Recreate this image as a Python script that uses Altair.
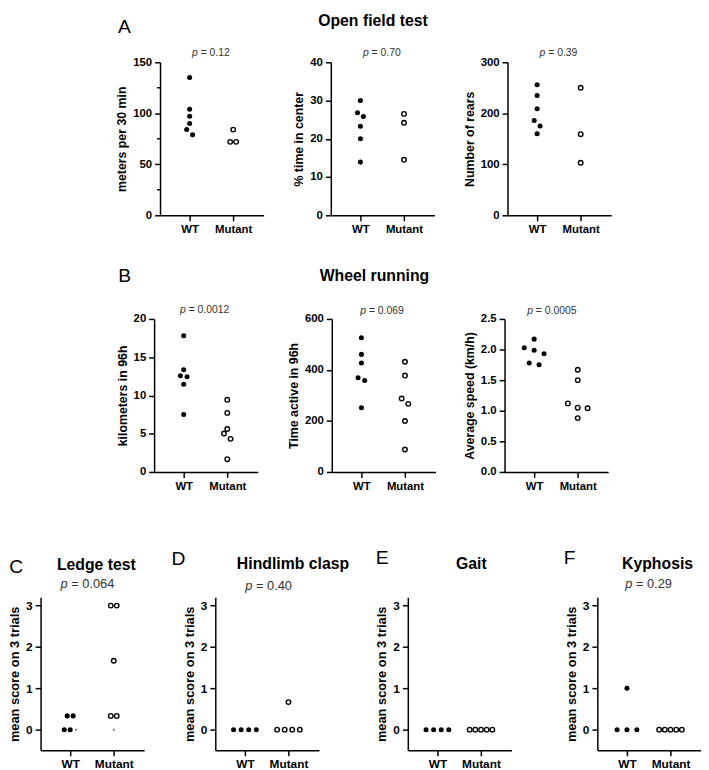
import altair as alt
import pandas as pd

# ---------------- data ----------------
GROUPS = ["WT", "Mutant"]

# A  Open field test
DIST_WT = [135, 104, 97, 90, 84, 79]
DIST_MUT = [84, 72, 72]
CENTER_WT = [30.0, 26.8, 25.8, 23.3, 20.0, 13.9]
CENTER_MUT = [26.5, 24.2, 14.5]
REARS_WT = [256, 235, 209, 186, 175, 160]
REARS_MUT = [250, 159, 103]

# B  Wheel running
KM_WT = [17.8, 13.35, 12.57, 12.44, 11.45, 7.5]
KM_MUT = [9.43, 7.72, 5.62, 5.02, 4.33, 1.67]
ACTIVE_WT = [526, 461, 427, 369, 359, 252]
ACTIVE_MUT = [432, 378, 288, 267, 200, 88]
SPEED_WT = [2.17, 2.03, 1.99, 1.93, 1.78, 1.75]
SPEED_MUT = [1.67, 1.50, 1.12, 1.05, 1.04, 0.88]

# C-F  scores (mean score on 3 trials)
LEDGE_WT = [0.333, 0.333, 0, 0]
LEDGE_MUT = [3, 3, 1.667, 0.333, 0.333]
LEDGE_WT_FAINT = [0]
LEDGE_MUT_FAINT = [0]
CLASP_WT = [0, 0, 0, 0]
CLASP_MUT = [0.667, 0, 0, 0, 0]
GAIT_WT = [0, 0, 0, 0]
GAIT_MUT = [0, 0, 0, 0, 0]
KYPH_WT = [1, 0, 0, 0]
KYPH_MUT = [0, 0, 0, 0, 0]

P_VALUES = {
    "dist": "0.12", "center": "0.70", "rears": "0.39",
    "km": "0.0012", "active": "0.069", "speed": "0.0005",
    "ledge": "0.064", "clasp": "0.40", "kyph": "0.29",
}

# ---------------- style / layout ----------------
FONT = "Liberation Sans"
PCOL = "#333333"
W, H = 105, 155
XDOM = [-0.68, 1.70]
PXU = W / (XDOM[1] - XDOM[0])
ONE = pd.DataFrame({"k": [0]})

CHAR_W = {"p": 0.556, " ": 0.278, "=": 0.584, ".": 0.278}
for _d in "0123456789":
    CHAR_W[_d] = 0.556


def text_w(s, fs):
    return sum(CHAR_W.get(c, 0.556) for c in s) * fs


def label(text, x, y, fs, weight="normal", style="normal", align="left", color="black"):
    return alt.Chart(ONE).mark_text(
        text=text, font=FONT, fontSize=fs, fontWeight=weight, fontStyle=style,
        align=align, baseline="alphabetic", color=color,
    ).encode(x=alt.value(x), y=alt.value(y))


def p_label(pv, cx, by, fs):
    rest = "= " + pv
    w_p, w_sp, w_r = text_w("p", fs), text_w(" ", fs), text_w(rest, fs)
    x0 = cx - (w_p + w_sp + w_r) / 2
    return [label("p", x0, by, fs, style="italic", color=PCOL),
            label(rest, x0 + w_p + w_sp, by, fs, color=PCOL)]


def swarm(vals, ppu, spread, thresh=6.5, cap=23.0):
    """simple beeswarm: rows of near-equal values spread symmetrically (pixels)."""
    order = sorted(range(len(vals)), key=lambda i: vals[i])
    rows = []
    for i in order:
        if rows and (vals[i] - vals[rows[-1][0]]) * ppu < thresh:
            rows[-1].append(i)
        else:
            rows.append([i])
    offs = [0.0] * len(vals)
    for r in rows:
        n = len(r)
        s = spread if n < 2 else min(spread, cap / (n - 1))
        r_sorted = sorted(r, key=lambda i: -vals[i])
        for k, i in enumerate(r_sorted):
            offs[i] = (k - (n - 1) / 2) * s
    return offs


def panel(wt, mut, ydom, yticks, ytitle, spread, fmt=None, minor=(),
          faint_wt=(), faint_mut=(), texts=(), title_fs=12.5, label_fs=11.5):
    ppu = H / (ydom[1] - ydom[0])
    recs = []
    for gi, vals, faint, kind in ((0, wt, faint_wt, "filled"), (1, mut, faint_mut, "open")):
        allv = list(vals) + list(faint)
        kinds = [kind] * len(vals) + ["faint"] * len(faint)
        offs = swarm(allv, ppu, spread)
        for v, k, o in zip(allv, kinds, offs):
            recs.append({"pos": gi + o / PXU, "value": v, "kind": k, "group": GROUPS[gi]})
    df = pd.DataFrame(recs)
    ax_kw = dict(values=list(yticks), title=ytitle, titleFontSize=title_fs, labelFontSize=label_fs)
    if fmt:
        ax_kw["format"] = fmt
    yaxis = alt.Axis(**ax_kw)
    yscale = alt.Scale(domain=list(ydom), nice=False, zero=False)
    xenc = alt.X("pos:Q", scale=alt.Scale(domain=XDOM, nice=False, zero=False),
                 axis=alt.Axis(values=[0, 1], title=None, labelFontSize=label_fs,
                               labelExpr=f"datum.value == 0 ? '{GROUPS[0]}' : '{GROUPS[1]}'"))
    yenc = alt.Y("value:Q", scale=yscale, axis=yaxis)
    base = alt.Chart(df).encode(x=xenc, y=yenc)
    layers = [
        base.transform_filter(alt.datum.kind == "filled").mark_point(
            shape="circle", filled=True, color="black", size=26, opacity=1),
        base.transform_filter(alt.datum.kind == "open").mark_point(
            shape="circle", filled=True, fill="white", stroke="black",
            strokeWidth=1.4, size=21, opacity=1),
    ]
    if faint_wt or faint_mut:
        layers.append(base.transform_filter(alt.datum.kind == "faint").mark_point(
            shape="circle", filled=True, color="#444444", size=3, opacity=1))
    if minor:
        layers.append(alt.Chart(pd.DataFrame({"value": list(minor)})).mark_rule(
            color="black", strokeWidth=1.5).encode(
            y=alt.Y("value:Q", scale=yscale, axis=yaxis),
            x=alt.value(-3), x2=alt.value(0)))
    layers.extend(texts)
    return alt.layer(*layers).properties(width=W, height=H)


def spacer(w, top=None, bottom=None):
    layers = [alt.Chart(ONE).mark_rule(opacity=0).encode(
        x=alt.value(0), x2=alt.value(max(w, 1)), y=alt.value(H / 2))]
    if top is not None:
        layers.append(alt.Chart(ONE).mark_rule(opacity=0, strokeWidth=0.5).encode(
            x=alt.value(0), x2=alt.value(1), y=alt.value(-top)))
    if bottom is not None:
        layers.append(alt.Chart(ONE).mark_rule(opacity=0, strokeWidth=0.5).encode(
            x=alt.value(0), x2=alt.value(1), y=alt.value(H + bottom)))
    return alt.layer(*layers).properties(width=w, height=H)


PF_AB = 10.5
PF_CF = 13
LET = 19.5
TTL = 16
SCORE_DOM = (-0.5, 3.2)
SCORE_TICKS = [0, 1, 2, 3]
SCORE_TITLE = "mean score on 3 trials"

# ---- row A
A1 = panel(DIST_WT, DIST_MUT, (0, 150), [0, 50, 100, 150], "meters per 30 min", 6,
           minor=[25, 75, 125],
           texts=[label("A", -42.5, -29.4, LET), *p_label(P_VALUES["dist"], 51.5, -6.2, PF_AB)])
A2 = panel(CENTER_WT, CENTER_MUT, (0, 40), [0, 10, 20, 30, 40], "% time in center", 6,
           texts=[label("Open field test", 42.7, -36.4, TTL, weight="bold", align="center"),
                  *p_label(P_VALUES["center"], 51.7, -6.2, PF_AB)])
A3 = panel(REARS_WT, REARS_MUT, (0, 300), [0, 100, 200, 300], "Number of rears", 6,
           texts=[*p_label(P_VALUES["rears"], 51.6, -6.2, PF_AB)])

# ---- row B
B1 = panel(KM_WT, KM_MUT, (0, 20), [0, 5, 10, 15, 20], "kilometers in 96h", 6.7,
           texts=[label("B", -36.3, -37.4, LET), *p_label(P_VALUES["km"], 51.2, -5.7, PF_AB)])
B2 = panel(ACTIVE_WT, ACTIVE_MUT, (0, 600), [0, 200, 400, 600], "Time active in 96h", 6.7,
           texts=[label("Wheel running", 43.2, -38.7, TTL, weight="bold", align="center"),
                  *p_label(P_VALUES["active"], 50.9, -5.2, PF_AB)])
B3 = panel(SPEED_WT, SPEED_MUT, (0, 2.5), [0, 0.5, 1.0, 1.5, 2.0, 2.5], "Average speed (km/h)", 10,
           fmt=".1f", texts=[*p_label(P_VALUES["speed"], 47.9, -4.7, PF_AB)])

# ---- row C-F
C = panel(LEDGE_WT, LEDGE_MUT, SCORE_DOM, SCORE_TICKS, SCORE_TITLE, 6,
          faint_wt=LEDGE_WT_FAINT, faint_mut=LEDGE_MUT_FAINT, title_fs=13, label_fs=12,
          texts=[label("C", -31.7, -25, LET),
                 label("Ledge test", 56.5, -27.2, TTL, weight="bold", align="center"),
                 *p_label(P_VALUES["ledge"], 47.5, -9.3, PF_CF)])
D = panel(CLASP_WT, CLASP_MUT, SCORE_DOM, SCORE_TICKS, SCORE_TITLE, 10, title_fs=13, label_fs=12,
          texts=[label("D", -44.3, -33, LET),
                 label("Hindlimb clasp", 78.7, -29, TTL, weight="bold", align="center"),
                 *p_label(P_VALUES["clasp"], 54, -7.5, PF_CF)])
E = panel(GAIT_WT, GAIT_MUT, SCORE_DOM, SCORE_TICKS, SCORE_TITLE, 10, title_fs=13, label_fs=12,
          texts=[label("E", -32.4, -33.3, LET),
                 label("Gait", 64.3, -29, TTL, weight="bold", align="center")])
F = panel(KYPH_WT, KYPH_MUT, SCORE_DOM, SCORE_TICKS, SCORE_TITLE, 10, title_fs=13, label_fs=12,
          texts=[label("F", -34, -33.3, LET),
                 label("Kyphosis", 61, -29, TTL, weight="bold", align="center"),
                 *p_label(P_VALUES["kyph"], 51.9, -9, PF_CF)])

row_a = alt.hconcat(spacer(152.5, top=49.6, bottom=28), A1, spacer(67.8), A2, spacer(73.4), A3,
                    spacing=0, bounds="flush")
row_b = alt.hconcat(spacer(146.3, top=76.2, bottom=28), B1, spacer(75), B2, spacer(70), B3,
                    spacing=0, bounds="flush")
row_c = alt.hconcat(spacer(31.7, top=98.8), C, spacer(71.3), D, spacer(89.7), E, spacer(86.6), F,
                    spacing=0, bounds="flush")

chart = alt.vconcat(row_a, row_b, row_c, spacing=0).properties(padding=0).configure_view(
    stroke=None
).configure_axis(
    grid=False, domainColor="black", domainWidth=1.5, tickColor="black", tickWidth=1.5,
    tickSize=5.5, labelFont=FONT, labelFontWeight="bold", labelColor="black", labelFontSize=11.5,
    labelPadding=3, labelFlush=False, labelOverlap=False,
    titleFont=FONT, titleFontWeight="bold", titleColor="black", titlePadding=4,
)

chart.save("out.html", embed_options={"renderer": "svg", "actions": False})
